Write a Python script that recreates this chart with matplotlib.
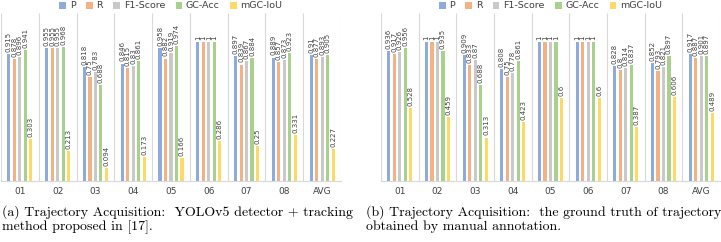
import numpy as np
import matplotlib.pyplot as plt

# categories and series
categorias = ['01', '02', '03', '04', '05', '06', '07', '08', 'AVG']
series = ['P', 'R', 'F1-Score', 'GC-Acc', 'mGC-IoU']
cores = ['#8FAADC', '#F4B183', '#C9C9C9', '#A9D18E', '#FFD966']

# (a) YOLOv5 detector + tracking
a_P = [0.915, 0.955, 0.818, 0.846, 0.958, 1, 0.897, 0.889, 0.91]
a_R = [0.878, 0.955, 0.75, 0.815, 0.882, 1, 0.839, 0.857, 0.877]
a_F1 = [0.896, 0.955, 0.783, 0.83, 0.919, 1, 0.867, 0.873, 0.893]
a_GC = [0.941, 0.968, 0.688, 0.861, 0.974, 1, 0.884, 0.923, 0.905]
a_IoU = [0.303, 0.213, 0.094, 0.173, 0.166, 0.286, 0.25, 0.331, 0.227]

# (b) ground truth trajectory
b_P = [0.936, 1, 0.909, 0.808, 1, 1, 0.828, 0.852, 0.917]
b_R = [0.917, 1, 0.833, 0.75, 1, 1, 0.8, 0.793, 0.887]
b_F1 = [0.926, 1, 0.87, 0.778, 1, 1, 0.814, 0.821, 0.901]
b_GC = [0.956, 0.935, 0.688, 0.861, 1, 1, 0.837, 0.897, 0.897]
b_IoU = [0.528, 0.459, 0.313, 0.423, 0.6, 0.6, 0.387, 0.606, 0.489]

legenda_cap_a = ('(a) Trajectory Acquisition:  YOLOv5 detector + tracking\n'
                 'method proposed in [17].')
legenda_cap_b = ('(b) Trajectory Acquisition:  the ground truth of trajectory\n'
                 'obtained by manual annotation.')

W, H = 721, 242
fig = plt.figure(figsize=(W / 100, H / 100), dpi=100)


def desenha(ax, dados):
    x = np.arange(len(categorias))
    passo = 0.145
    largura = 0.082
    for i, (vals, cor, nome) in enumerate(zip(dados, cores, series)):
        pos = x + (i - 2) * passo
        ax.bar(pos, vals, width=largura, color=cor, label=nome, zorder=3)
        for p, v in zip(pos, vals):
            ax.text(p, v + 0.015, '{:g}'.format(v), rotation=90, ha='center',
                    va='bottom', fontsize=5, color='#404040', zorder=4)
    ax.set_xlim(-0.5, len(categorias) - 0.5)
    ax.set_ylim(0, 1.21)
    ax.vlines(np.arange(len(categorias) + 1) - 0.5, 0, 1.21,
              color='#D9D9D9', lw=0.8, zorder=1)
    for s in ['top', 'left', 'right']:
        ax.spines[s].set_visible(False)
    ax.spines['bottom'].set_color('#D9D9D9')
    ax.set_yticks([])
    ax.set_xticks(x)
    ax.set_xticklabels(categorias, fontsize=6.5, color='#404040')
    ax.tick_params(axis='x', length=0, pad=4)


ax1 = fig.add_axes([1 / W, 1 - 181 / H, 340 / W, 168 / H])
desenha(ax1, [a_P, a_R, a_F1, a_GC, a_IoU])
ax2 = fig.add_axes([381 / W, 1 - 181 / H, 339 / W, 168 / H])
desenha(ax2, [b_P, b_R, b_F1, b_GC, b_IoU])

for ax in [ax1, ax2]:
    ax.legend(loc='center', bbox_to_anchor=(0.5, 1 + 7 / 168), ncol=5,
              frameon=False, fontsize=6.8, handlelength=0.7, handleheight=0.7,
              handletextpad=0.4, columnspacing=1.1, labelcolor='#404040')

fig.text(2 / W, 1 - 205 / H, legenda_cap_a, fontsize=10, family='cmr10',
         va='top', ha='left', linespacing=1.2)
fig.text(366 / W, 1 - 205 / H, legenda_cap_b, fontsize=10, family='cmr10',
         va='top', ha='left', linespacing=1.2)

fig.savefig('out.png', dpi=100)
